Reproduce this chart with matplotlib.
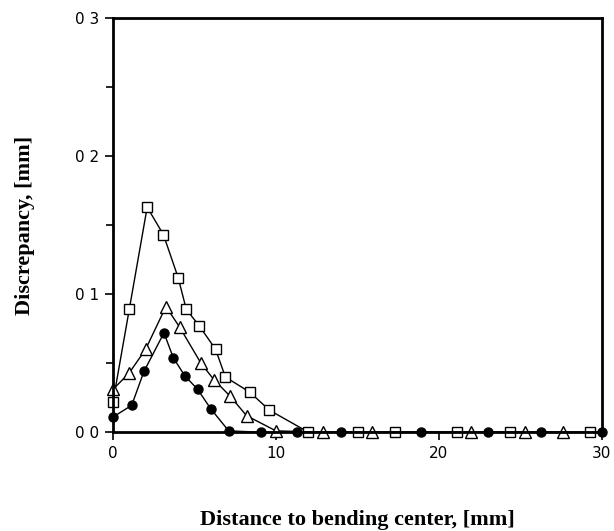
import matplotlib
matplotlib.use("Agg")
import matplotlib.pyplot as plt
from matplotlib.ticker import MultipleLocator

# values
sq_x = [0, 1.0, 2.1, 3.1, 4.0, 4.5, 5.3, 6.3, 6.9, 8.4, 9.6, 12.0, 15.05, 17.3, 21.1, 24.4, 29.3]
sq_y = [0.022, 0.089, 0.163, 0.143, 0.112, 0.089, 0.077, 0.060, 0.040, 0.029, 0.016, 0, 0, 0, 0, 0, 0]

tri_x = [0, 1.0, 2.0, 3.25, 4.1, 5.4, 6.2, 7.2, 8.2, 10.0, 12.9, 15.9, 22.0, 25.3, 27.6]
tri_y = [0.031, 0.043, 0.060, 0.091, 0.076, 0.050, 0.038, 0.026, 0.012, 0.001, 0, 0, 0, 0, 0]

dot_x = [0, 1.15, 1.9, 3.13, 3.7, 4.4, 5.2, 6.0, 7.1, 9.1, 11.3, 14.0, 18.9, 23.0, 26.3, 30.0]
dot_y = [0.011, 0.0195, 0.044, 0.072, 0.054, 0.041, 0.031, 0.017, 0.001, 0, 0, 0, 0, 0, 0, 0]

x_ticks = [0, 10, 20, 30]
y_ticks = [0, 0.1, 0.2, 0.3]
y_tick_labels = ["0 0", "0 1", "0 2", "0 3"]

fig = plt.figure(figsize=(6.14, 5.31), dpi=100)
ax = fig.add_axes([0.184, 0.186, 0.796, 0.78])

ax.plot(sq_x, sq_y, color="black", lw=1.0, marker="s", ms=7.5,
        mfc="white", mec="black", mew=1.0, zorder=3)
ax.plot(tri_x, tri_y, color="black", lw=1.0, marker="^", ms=9,
        mfc="white", mec="black", mew=1.0, zorder=3)
ax.plot(dot_x, dot_y, color="black", lw=1.0, marker="o", ms=6.5,
        mfc="black", mec="black", zorder=4)

ax.set_xlim(0, 30)
ax.set_ylim(0, 0.3)
ax.set_xticks(x_ticks)
ax.set_xticklabels([str(t) for t in x_ticks])
ax.set_yticks(y_ticks)
ax.set_yticklabels(y_tick_labels)
ax.yaxis.set_minor_locator(MultipleLocator(0.05))

for s in ax.spines.values():
    s.set_linewidth(2.0)
    s.set_zorder(5)
ax.tick_params(axis="both", which="major", direction="out", length=6, width=1.2,
               labelsize=11, pad=4)
ax.tick_params(axis="y", which="minor", direction="out", length=5, width=1.2)
for lab in ax.get_xticklabels() + ax.get_yticklabels():
    lab.set_family("DejaVu Sans")
for line in ax.lines:
    line.set_clip_on(False)

ax.set_xlabel("Distance to bending center, [mm]", family="Liberation Serif",
              fontweight="bold", fontsize=16)
ax.set_ylabel("Discrepancy, [mm]", family="Liberation Serif",
              fontweight="bold", fontsize=16)
# label centres: x label near y=518 px, y label near x=25 px
ax.xaxis.set_label_coords(0.5, -0.187)
ax.yaxis.set_label_coords(-0.16, 0.5)

fig.savefig("out.png", dpi=100)
